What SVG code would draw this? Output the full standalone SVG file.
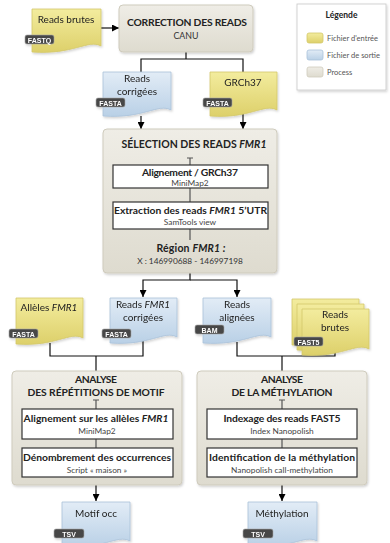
<svg xmlns="http://www.w3.org/2000/svg" width="390" height="543" viewBox="0 0 390 543">
<defs>
<linearGradient id="gY" x1="0" y1="0" x2="0" y2="1"><stop offset="0" stop-color="#f3ec9e"/><stop offset="1" stop-color="#ddd06a"/></linearGradient>
<linearGradient id="gB" x1="0" y1="0" x2="0" y2="1"><stop offset="0" stop-color="#e2ecf6"/><stop offset="1" stop-color="#b9d0e6"/></linearGradient>
<linearGradient id="gP" x1="0" y1="0" x2="0" y2="1"><stop offset="0" stop-color="#efede6"/><stop offset="1" stop-color="#dedbcf"/></linearGradient>
<filter id="sh" x="-10%" y="-10%" width="130%" height="130%"><feDropShadow dx="1" dy="1.5" stdDeviation="1.2" flood-color="#000" flood-opacity="0.18"/></filter>
<marker id="ar" viewBox="0 0 10 10" refX="10" refY="5" markerWidth="7" markerHeight="7" markerUnits="userSpaceOnUse" orient="auto"><path d="M0,0 L10,5 L0,10 Z" fill="#000"/></marker>
</defs>
<style>
text{font-family:Lato,"Open Sans","Liberation Sans",sans-serif;fill:#222}
.t{font-size:10px}
.b{font-weight:bold}
.h{font-size:10.3px;font-weight:bold}
.s{font-size:8.3px;fill:#444}
.c{text-anchor:middle}
.yel{fill:url(#gY);stroke:#d3c86a;stroke-width:0.8}
.blu{fill:url(#gB);stroke:#a9c1d9;stroke-width:0.8}
.proc{fill:url(#gP);stroke:#cfcbbd;stroke-width:1;filter:url(#sh)}
.in{fill:#fff;stroke:#333;stroke-width:1.2}
.tag rect{fill:#474747;stroke:#aaa;stroke-width:0.6}
.tag text{font-family:"Liberation Sans",Arial,sans-serif;font-size:7px;font-weight:bold;fill:#fff;text-anchor:middle}
.ln{fill:none;stroke:#111;stroke-width:1.2}
.gl{fill:none;stroke:#555;stroke-width:1.2}
.doc{filter:url(#sh)}
</style>

<g id="legend">
<rect x="297" y="4" width="89" height="86" fill="#fff" stroke="#c8c8c8" stroke-width="0.8" filter="url(#sh)"/>
<text x="341.5" y="18" class="b c" style="font-size:8.5px">Légende</text>
<rect x="307" y="33" width="16" height="10" rx="2" class="yel"/>
<text x="327" y="41" style="font-size:7.5px;fill:#555">Fichier d'entrée</text>
<rect x="307" y="50" width="16" height="10" rx="2" class="blu"/>
<text x="327" y="58" style="font-size:7.5px;fill:#555">Fichier de sortie</text>
<rect x="307" y="67" width="16" height="10" rx="2" fill="url(#gP)" stroke="#cfcbbd" stroke-width="0.8"/>
<text x="327" y="75" style="font-size:7.5px;fill:#555">Process</text>
</g>

<g id="connectors">
<path class="ln" d="M101 28 H119" marker-end="url(#ar)"/>
<path class="ln" d="M186 52 V59 H141 V72 M186 59 H243 V72"/>
<path class="ln" d="M141 116 V129" marker-end="url(#ar)"/>
<path class="ln" d="M243 114 V129" marker-end="url(#ar)"/>
<path class="ln" d="M190 273 V280 H143 V297" marker-end="url(#ar)"/>
<path class="ln" d="M190 280 H237 V297" marker-end="url(#ar)"/>
<path class="ln" d="M50 343 V356 H143 V341 M96 356 V371"/>
<path class="ln" d="M237 342 V356 H335 V351 M282 356 V371"/>
<path class="ln" d="M96 485 V501" marker-end="url(#ar)"/>
<path class="ln" d="M282 485 V501" marker-end="url(#ar)"/>
</g>

<g id="reads-brutes-fastq" class="doc">
<path class="yel" d="M32 9 H101 V46 C88 39 74 55 32 52 Z"/>
<text x="66" y="23" class="t c">Reads brutes</text>
<g class="tag"><rect x="25" y="35" width="29" height="9" rx="2"/><text x="39.5" y="42.5">FASTQ</text></g>
</g>

<g id="correction">
<rect x="119" y="5" width="134" height="47" rx="4" class="proc"/>
<text x="187" y="26" class="h c" textLength="120">CORRECTION DES READS</text>
<text x="186" y="39" class="c" style="font-size:8.8px;fill:#333">CANU</text>
</g>

<g id="reads-corrigees" class="doc">
<path class="blu" d="M103 72 H171 V110 C158 103 144 119 103 116 Z"/>
<text x="137" y="82" class="t c">Reads</text>
<text x="137" y="95" class="t c">corrigées</text>
<g class="tag"><rect x="96" y="98" width="29" height="9" rx="2"/><text x="110.5" y="105.5">FASTA</text></g>
</g>

<g id="grch37" class="doc">
<path class="yel" d="M210 72 H277 V110 C264 103 250 119 210 116 Z"/>
<text x="243" y="86" class="t c">GRCh37</text>
<g class="tag"><rect x="203" y="98" width="29" height="9" rx="2"/><text x="217.5" y="105.5">FASTA</text></g>
</g>

<g id="selection">
<rect x="103" y="129" width="174" height="144" rx="4" class="proc"/>
<text x="194" y="148" class="h c" style="font-size:10.5px" textLength="145">SÉLECTION DES READS <tspan font-style="italic">FMR1</tspan></text>
<path class="gl" d="M187 158 H193 M190 158 V165 M190 188 V202 M190 229 V240"/>
<rect x="113" y="165" width="155" height="23" class="in"/>
<text x="190" y="176" class="h c" textLength="96">Alignement / GRCh37</text>
<text x="190" y="185.5" class="s c">MiniMap2</text>
<rect x="113" y="202" width="155" height="27" class="in"/>
<text x="190.5" y="214" class="h c" textLength="153">Extraction des reads <tspan font-style="italic">FMR1</tspan> 5’UTR</text>
<text x="190" y="224.5" class="s c">SamTools view</text>
<text x="191" y="252" class="h c" style="font-size:10.5px" textLength="69">Région <tspan font-style="italic">FMR1 :</tspan></text>
<text x="190" y="264" class="c" style="font-size:8.3px;fill:#333">X : 146990688 - 146997198</text>
</g>

<g id="alleles-fmr1" class="doc">
<path class="yel" d="M16 298 H83 V338 C70 331 56 347 16 344 Z"/>
<text x="49" y="311" class="t c">Allèles <tspan font-style="italic">FMR1</tspan></text>
<g class="tag"><rect x="9" y="329" width="29" height="9" rx="2"/><text x="23.5" y="336.5">FASTA</text></g>
</g>

<g id="reads-fmr1-corrigees" class="doc">
<path class="blu" d="M110 298 H177 V337 C164 330 150 346 110 343 Z"/>
<text x="143" y="308" class="t c">Reads <tspan font-style="italic">FMR1</tspan></text>
<text x="143" y="321" class="t c">corrigées</text>
<g class="tag"><rect x="102" y="329" width="29" height="9" rx="2"/><text x="116.5" y="336.5">FASTA</text></g>
</g>

<g id="reads-alignees" class="doc">
<path class="blu" d="M203 298 H271 V337 C258 330 244 346 203 343 Z"/>
<text x="237" y="308" class="t c">Reads</text>
<text x="237" y="321" class="t c">alignées</text>
<g class="tag"><rect x="195" y="325" width="29" height="9" rx="2"/><text x="209.5" y="332.5">BAM</text></g>
</g>

<g id="reads-brutes-fast5" class="doc">
<path class="yel" d="M292 299 H359 V339 C346 332 332 348 292 345 Z"/>
<path class="yel" d="M297 304 H364 V344 C351 337 337 353 297 350 Z"/>
<path class="yel" d="M302 309 H369 V349 C356 342 342 358 302 355 Z"/>
<text x="335" y="318" class="t c">Reads</text>
<text x="335" y="331" class="t c">brutes</text>
<g class="tag"><rect x="294" y="337" width="29" height="9" rx="2"/><text x="308.5" y="344.5">FAST5</text></g>
</g>

<g id="analyse-motif">
<rect x="12" y="371" width="170" height="114" rx="4" class="proc"/>
<text x="96" y="383" class="h c" textLength="42">ANALYSE</text>
<text x="96" y="396" class="h c" textLength="137">DES RÉPÉTITIONS DE MOTIF</text>
<path class="gl" d="M93 400 H99 M96 400 V409 M96 439 V448"/>
<rect x="22" y="409" width="151" height="30" class="in"/>
<text x="96" y="422" class="h c" textLength="145">Alignement sur les allèles <tspan font-style="italic">FMR1</tspan></text>
<text x="97" y="434" class="s c">MiniMap2</text>
<rect x="22" y="448" width="151" height="29" class="in"/>
<text x="97" y="461" class="h c" textLength="148">Dénombrement des occurrences</text>
<text x="97" y="473" class="s c">Script « maison »</text>
</g>

<g id="analyse-methylation">
<rect x="197" y="371" width="170" height="114" rx="4" class="proc"/>
<text x="282" y="383" class="h c" textLength="42">ANALYSE</text>
<text x="282" y="396" class="h c" textLength="101">DE LA MÉTHYLATION</text>
<path class="gl" d="M279 400 H285 M282 400 V409 M282 439 V448"/>
<rect x="207" y="409" width="150" height="30" class="in"/>
<text x="282" y="422" class="h c" textLength="117">Indexage des reads FAST5</text>
<text x="282" y="434" class="s c">Index Nanopolish</text>
<rect x="207" y="448" width="150" height="29" class="in"/>
<text x="282" y="461" class="h c" textLength="146">Identification de la méthylation</text>
<text x="282" y="473" class="s c">Nanopolish call-methylation</text>
</g>

<g id="motif-occ" class="doc">
<path class="blu" d="M62 502 H130 V541 C117 534 103 550 62 547 Z"/>
<text x="96" y="517" class="t c">Motif occ</text>
<g class="tag"><rect x="54" y="529" width="30" height="9" rx="2"/><text x="69" y="536.5">TSV</text></g>
</g>

<g id="methylation" class="doc">
<path class="blu" d="M248 502 H317 V541 C304 534 290 550 248 547 Z"/>
<text x="282" y="517" class="t c">Méthylation</text>
<g class="tag"><rect x="243" y="529" width="30" height="9" rx="2"/><text x="258" y="536.5">TSV</text></g>
</g>
</svg>
